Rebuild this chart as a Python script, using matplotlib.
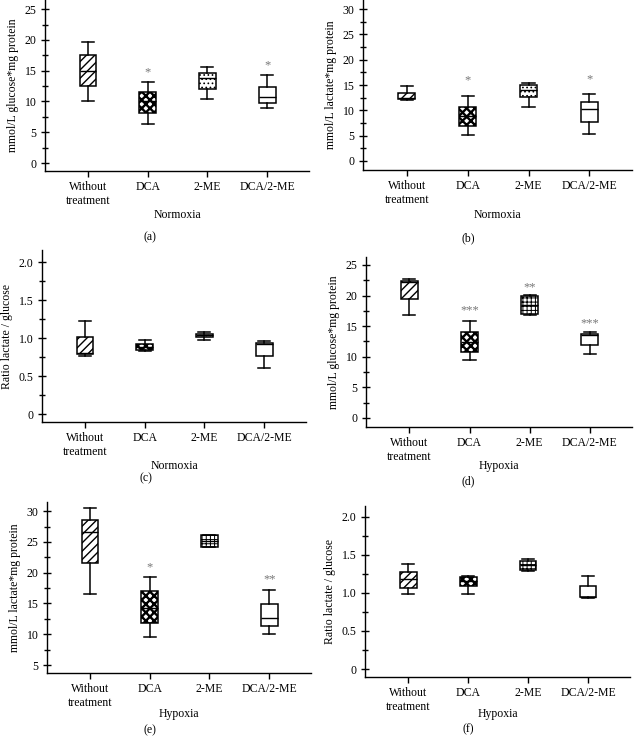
import matplotlib
matplotlib.use("Agg")
import matplotlib.pyplot as plt
from matplotlib.ticker import MultipleLocator, FuncFormatter

plt.rcParams["font.family"] = ["Liberation Serif", "DejaVu Serif"]
plt.rcParams["font.size"] = 8.5

groups = ["Without\ntreatment", "DCA", "2-ME", "DCA/2-ME"]

# (whislo, q1, median, q3, whishi) per group
a_stats = [(10.0, 12.5, 15.0, 17.5, 19.6), (6.4, 8.2, 10.0, 11.6, 13.2),
           (10.4, 12.1, 13.9, 14.7, 15.55), (8.9, 9.7, 10.7, 12.4, 14.3)]
b_stats = [(12.1, 12.2, 12.5, 13.5, 14.9), (5.2, 6.8, 8.8, 10.7, 12.8),
           (10.7, 12.7, 14.0, 15.0, 15.3), (5.4, 7.6, 10.2, 11.7, 13.2)]
c_stats = [(0.76, 0.79, 0.81, 1.02, 1.22), (0.835, 0.845, 0.88, 0.92, 0.98),
           (0.975, 1.01, 1.04, 1.06, 1.08), (0.61, 0.76, 0.92, 0.94, 0.96)]
d_stats = [(16.85, 19.5, 22.2, 22.45, 22.7), (9.4, 10.7, 12.4, 14.0, 15.9),
           (16.85, 16.9, 18.5, 19.95, 20.1), (10.5, 11.95, 13.5, 13.75, 14.0)]
e_stats = [(16.5, 21.6, 26.6, 28.6, 30.5), (9.5, 11.9, 14.2, 17.0, 19.3),
           (24.2, 24.2, 25.1, 26.2, 26.2), (10.0, 11.3, 12.7, 14.9, 17.25)]
f_stats = [(0.98, 1.07, 1.18, 1.28, 1.38), (0.985, 1.09, 1.16, 1.21, 1.225),
           (1.29, 1.30, 1.365, 1.42, 1.44), (0.935, 0.94, 0.94, 1.095, 1.22)]

# significance marks and their heights
a_sig = ["", "*", "", "*"]
a_sig_y = [0, 14.8, 0, 15.9]
b_sig = ["", "*", "", "*"]
b_sig_y = [0, 16.0, 0, 16.2]
d_sig = ["", "***", "**", "***"]
d_sig_y = [0, 17.6, 21.4, 15.5]
e_sig = ["", "*", "", "**"]
e_sig_y = [0, 20.8, 0, 18.9]

W, H = 636, 741
fig = plt.figure(figsize=(W / 100, H / 100), dpi=100)


def make_axes(left, top, right, bottom):
    ax = fig.add_axes([left / W, 1 - bottom / H, (right - left) / W, (bottom - top) / H])
    ax.height_px = bottom - top
    return ax


def draw_panel(ax, stats, ylim, major, minor, ylabel, xlabel, xlabel_px, hyp,
               sig=None, sig_y=None, ratio=False):
    bx = []
    for s in stats:
        bx.append({"whislo": s[0], "q1": s[1], "med": s[2], "q3": s[3], "whishi": s[4], "fliers": []})
    art = ax.bxp(bx, positions=[1, 2, 3, 4], widths=0.28, patch_artist=True, showfliers=False,
                 capwidths=0.2,
                 boxprops=dict(facecolor="white", edgecolor="black", linewidth=1.1),
                 medianprops=dict(color="black", linewidth=1.0),
                 whiskerprops=dict(color="black", linewidth=1.1),
                 capprops=dict(color="black", linewidth=1.1))
    boxes = art["boxes"]
    boxes[0].set_hatch("////")
    boxes[1].set_hatch("xxxx")
    boxes[2].set_hatch("++++" if hyp else "....")
    try:
        boxes[1].set_hatch_linewidth(1.7)
        boxes[2].set_hatch_linewidth(0.7)
    except AttributeError:
        pass
    for b in boxes:
        b.set_zorder(2)

    if sig:
        for i, (t, y) in enumerate(zip(sig, sig_y)):
            if t:
                ax.text(i + 1, y, t, ha="center", va="center", color="#777777", fontsize=9)

    ax.set_xlim(0.28, 4.7)
    ax.set_ylim(*ylim)
    ax.yaxis.set_major_locator(MultipleLocator(major))
    ax.yaxis.set_minor_locator(MultipleLocator(minor))
    if ratio:
        ax.yaxis.set_major_formatter(FuncFormatter(lambda v, p: "0" if abs(v) < 1e-9 else f"{v:.1f}"))
    else:
        ax.yaxis.set_major_formatter(FuncFormatter(lambda v, p: f"{v:.0f}"))
    ax.set_xticks([1, 2, 3, 4])
    ax.set_xticklabels(groups, linespacing=1.2)
    ax.spines["top"].set_visible(False)
    ax.spines["right"].set_visible(False)
    for sp in ("left", "bottom"):
        ax.spines[sp].set_linewidth(1.0)
    ax.tick_params(axis="y", which="major", direction="inout", length=6, width=1.0, pad=3, labelsize=8.5)
    ax.tick_params(axis="y", which="minor", direction="inout", length=5, width=1.0)
    ax.tick_params(axis="x", which="major", direction="out", length=4, width=1.0, pad=3, labelsize=8.5)
    ax.set_ylabel(ylabel, fontsize=8.5, labelpad=4)
    ax.set_xlabel(xlabel, fontsize=8.5, va="center")
    ax.xaxis.set_label_coords(0.5, -xlabel_px / ax.height_px)


ax_a = make_axes(45, 0, 309, 171)
draw_panel(ax_a, a_stats, (-1.3, 26.5), 5, 2.5, "mmol/L glucose*mg protein", "Normoxia", 44, False,
           a_sig, a_sig_y)
ax_b = make_axes(363, 0, 632, 170)
draw_panel(ax_b, b_stats, (-1.8, 31.8), 5, 2.5, "mmol/L lactate*mg protein", "Normoxia", 45, False,
           b_sig, b_sig_y)
ax_c = make_axes(42, 250, 306, 422)
draw_panel(ax_c, c_stats, (-0.105, 2.16), 0.5, 0.25, "Ratio lactate / glucose", "Normoxia", 44, False,
           ratio=True)
ax_d = make_axes(366, 257, 632, 427)
draw_panel(ax_d, d_stats, (-1.5, 26.3), 5, 2.5, "mmol/L glucose*mg protein", "Hypoxia", 39, True,
           d_sig, d_sig_y)
ax_e = make_axes(47, 502, 311, 673)
draw_panel(ax_e, e_stats, (3.7, 31.5), 5, 2.5, "mmol/L lactate*mg protein", "Hypoxia", 41, True,
           e_sig, e_sig_y)
ax_f = make_axes(365, 506, 630, 677)
draw_panel(ax_f, f_stats, (-0.105, 2.14), 0.5, 0.25, "Ratio lactate / glucose", "Hypoxia", 37, True,
           ratio=True)

captions = ["(a)", "(b)", "(c)", "(d)", "(e)", "(f)"]
cap_xy = [(150, 237), (468, 238), (146, 478), (468, 481), (150, 730), (468, 729)]
for c, (x, y) in zip(captions, cap_xy):
    fig.text(x / W, 1 - y / H, c, ha="center", va="center", fontsize=8.5)

fig.savefig("out.png", dpi=100)
